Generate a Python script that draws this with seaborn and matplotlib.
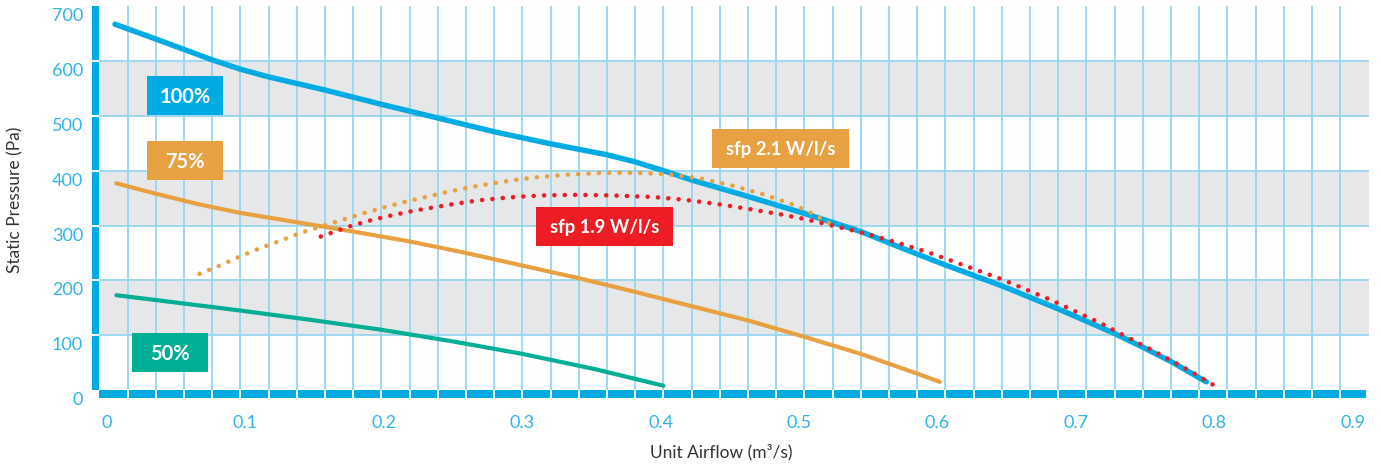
import numpy as np
import matplotlib
matplotlib.use("Agg")
import matplotlib.pyplot as plt
import seaborn as sns
from matplotlib.patches import Rectangle
from matplotlib.transforms import ScaledTranslation

# ---- fan curves (airflow m3/s, static pressure Pa) ----
fan100_x = [0.011, 0.04, 0.08, 0.10, 0.12, 0.16, 0.20, 0.24, 0.28, 0.32, 0.36, 0.38,
            0.40, 0.42, 0.46, 0.50, 0.54, 0.57, 0.60, 0.64, 0.68, 0.72, 0.74, 0.76, 0.785]
fan100_y = [667, 640, 602, 585, 571, 547, 521, 496, 471, 449, 429, 416,
            400, 383, 353, 322, 289, 258, 228, 190, 148, 103, 78, 52, 15]

fan75_x = [0.012, 0.04, 0.07, 0.10, 0.14, 0.18, 0.22, 0.26, 0.30, 0.34, 0.38,
           0.42, 0.46, 0.50, 0.54, 0.58, 0.596]
fan75_y = [377, 358, 339, 323, 306, 289, 271, 250, 227, 204, 179,
           153, 127, 97, 66, 30, 15]

fan50_x = [0.012, 0.05, 0.10, 0.15, 0.20, 0.25, 0.30, 0.35, 0.40]
fan50_y = [173, 161, 145, 128, 110, 89, 66, 39, 8]

# ---- specific fan power limits ----
sfp19_x = [0.157, 0.178, 0.193, 0.208, 0.223, 0.239, 0.253, 0.269, 0.285, 0.300, 0.315,
           0.338, 0.362, 0.393, 0.415, 0.439, 0.461, 0.484, 0.500, 0.523, 0.544, 0.567,
           0.589, 0.603, 0.640, 0.675, 0.710, 0.745, 0.772, 0.791]
sfp19_y = [280, 299, 310, 319, 327, 334, 340, 346, 350, 353, 355,
           356, 355, 352, 347, 339, 330, 320, 312, 298, 285, 268,
           250, 237, 202, 164, 122, 75, 37, 8]

sfp21_x = [0.071, 0.086, 0.100, 0.114, 0.129, 0.143, 0.158, 0.173, 0.188, 0.203, 0.218,
           0.233, 0.248, 0.263, 0.279, 0.294, 0.310, 0.333, 0.356, 0.380, 0.402, 0.426,
           0.450, 0.472, 0.493, 0.507, 0.518]
sfp21_y = [212, 228, 244, 259, 273, 287, 299, 311, 323, 334, 344,
           353, 362, 370, 377, 383, 388, 393, 396, 396, 394, 386,
           372, 356, 337, 320, 304]

x_ticks = [0, 0.1, 0.2, 0.3, 0.4, 0.5, 0.6, 0.7, 0.8, 0.9]
x_tick_labels = ["0", "0.1", "0.2", "0.3", "0.4", "0.5", "0.6", "0.7", "0.8", "0.9"]
y_ticks = [0, 100, 200, 300, 400, 500, 600, 700]

BLUE = "#00abe3"
ORANGE = "#e8a142"
TEAL = "#00af94"
RED = "#ee1c25"
GRAY_BAND = "#e6e7e8"
GRID = "#97d6ef"
TICK_COLOR = "#2db4ea"
TEXT_DARK = "#333333"

sns.set_theme(style="white")
plt.rcParams["font.family"] = ["Lato", "DejaVu Sans"]

W, H = 1381, 466
fig = plt.figure(figsize=(W / 100, H / 100), dpi=100)
ax = fig.add_axes([92 / W, 68 / H, 1276.5 / W, 391.85 / H])
XMIN, XMAX, YMIN, YMAX = -0.0053, 0.9, -14.4, 700
ax.set_xlim(XMIN, XMAX)
ax.set_ylim(YMIN, YMAX)
for s in ax.spines.values():
    s.set_visible(False)

# alternating grey bands
for lo in (100, 300, 500):
    ax.fill_between([0, XMAX], lo, lo + 100, color=GRAY_BAND, lw=0, zorder=0)

# light blue grid
grid_x = np.round(np.arange(0.02, 0.9, 0.02), 2)
grid_y = [100, 200, 300, 400, 500, 600]
ax.vlines(grid_x, 0, YMAX, color=GRID, lw=1.3, zorder=1)
ax.hlines(grid_y, 0, XMAX, color=GRID, lw=1.3, zorder=1)

# thick axis bars, broken in white where grid lines meet them
BAR_END = 0.898
ax.fill_between([0, BAR_END], YMIN, 0, color=BLUE, lw=0, zorder=2)
ax.fill_betweenx([0, YMAX], XMIN, 0, color=BLUE, lw=0, zorder=2)
ax.vlines(grid_x, YMIN, 0, color="white", lw=1.4, zorder=2.5)
ax.hlines(grid_y, XMIN, 0, color="white", lw=1.4, zorder=2.5)

# fan curves
for xs, ys, col, lw in ((fan50_x, fan50_y, TEAL, 3.0),
                        (fan75_x, fan75_y, ORANGE, 3.0),
                        (fan100_x, fan100_y, BLUE, 3.9)):
    sns.lineplot(x=xs, y=ys, color=col, lw=lw, ax=ax, estimator=None, sort=False,
                 solid_capstyle="round", solid_joinstyle="round", zorder=3)

# sfp dotted curves
dot_style = (0, (0.01, 2.25))
for xs, ys, col in ((sfp19_x, sfp19_y, RED), (sfp21_x, sfp21_y, ORANGE)):
    sns.lineplot(x=xs, y=ys, color=col, lw=3.3, ax=ax, estimator=None, sort=False,
                 linestyle=dot_style, dash_capstyle="round", zorder=4)

# curve tags
px_per_y = 391.85 / (YMAX - YMIN)
tags = [
    ("100%", 0.0337, 0.0876, 501.6, 572.7, BLUE, 14.5, 14.3),
    ("75%", 0.0337, 0.0876, 383.0, 454.0, ORANGE, 14.5, 14.3),
    ("50%", 0.0230, 0.0770, 33.5, 104.1, TEAL, 14.5, 14.3),
    ("sfp 2.1 W/l/s", 0.4344, 0.5313, 405.5, 475.5, ORANGE, 13.3, 13.3),
    ("sfp 1.9 W/l/s", 0.3096, 0.4065, 263.3, 333.3, RED, 13.3, 13.3),
]
for txt, x0, x1, y0, y1, col, fs, cap in tags:
    ax.add_patch(Rectangle((x0, y0), x1 - x0, y1 - y0, facecolor=col,
                           edgecolor="none", zorder=5))
    yc = (y0 + y1) / 2 - (cap / 2) / px_per_y
    ax.text((x0 + x1) / 2, yc, txt, ha="center", va="baseline", color="white",
            fontsize=fs, fontweight="bold", zorder=6)

# tick labels (spread slightly inside the frame)
ax.tick_params(axis="both", length=0, colors=TICK_COLOR, labelsize=13)
x_label_pos = [0.0053 + v * 0.9816 for v in x_ticks]
ax.set_xticks(x_label_pos, x_tick_labels)
ax.tick_params(axis="x", pad=12.5)
ax.set_yticks(y_ticks, [str(v) for v in y_ticks])
ax.tick_params(axis="y", pad=6.5)
shift = ScaledTranslation(0, -8.5 / 100, fig.dpi_scale_trans)
for lab in ax.get_yticklabels():
    lab.set_transform(lab.get_transform() + shift)

ax.set_xlabel("Unit Airflow (m³/s)", fontsize=12.5, color=TEXT_DARK)
ax.xaxis.label.set_va("center")
ax.xaxis.set_label_coords((721 - 92) / 1276.5, (398 - 452) / 391.85)
ax.set_ylabel("Static Pressure (Pa)", fontsize=12.5, color=TEXT_DARK)
ax.yaxis.label.set_va("center")
ax.yaxis.set_label_coords((15 - 92) / 1276.5, (398 - 200) / 391.85)

fig.savefig("out.png", dpi=100)
